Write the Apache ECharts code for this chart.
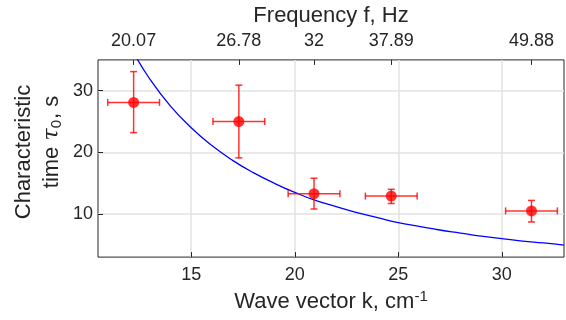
<!DOCTYPE html>
<html>
<head>
<meta charset="utf-8">
<script src="https://cdn.jsdelivr.net/npm/echarts@6/dist/echarts.min.js"></script>
<style>html,body{margin:0;padding:0;background:#fff}#c{width:566px;height:320px}</style>
</head>
<body>
<div id="c"></div>
<script>
// Measured points (wave vector k, cm^-1 ; characteristic time tau0, s)
const kVals   = [12.22, 17.30, 20.93, 24.66, 31.43];
const kErr    = [1.25, 1.25, 1.25, 1.25, 1.25];
const tauVals = [28.1, 25.0, 13.3, 12.9, 10.5];
const tauLow  = [23.2, 19.1, 10.8, 11.7, 8.7];
const tauHigh = [33.1, 30.9, 15.8, 14.0, 12.2];
// Top axis frequency labels (placed at the measured k values)
const freqLabels = ['20.07', '26.78', '32', '37.89', '49.88'];
// Fitted curve
const curveK   = [12.2, 13, 14, 15, 16, 17, 18, 19, 20, 21, 22, 23, 24, 25, 26, 27, 28, 29, 30, 31, 32, 33];
const curveTau = [36.3, 31.9, 27.5, 24.0, 21.1, 18.7, 16.7, 15.0, 13.5, 12.2, 11.2, 10.2, 9.4, 8.6, 8.0, 7.4, 6.9, 6.4, 6.0, 5.6, 5.3, 4.95];
// Tick values
const xTicks = [15, 20, 25, 30];
const yTicks = [10, 20, 30];

const FONT = 'Liberation Sans, Arial, Helvetica, sans-serif';
const TXT = '#262626';

const chart = echarts.init(document.getElementById('c'), null, {renderer: 'canvas'});

const errData = kVals.map((k, i) => [k, tauVals[i], k - kErr[i], k + kErr[i], tauLow[i], tauHigh[i]]);

function renderErr(params, api) {
  const k = api.value(0), t = api.value(1);
  const p = api.coord([k, t]);
  const lo = api.coord([k, api.value(4)]);
  const hi = api.coord([k, api.value(5)]);
  const l = api.coord([api.value(2), t]);
  const r = api.coord([api.value(3), t]);
  const c = 3.5;
  const st = {stroke: 'rgba(255,0,0,0.8)', lineWidth: 1.5};
  const ln = (x1, y1, x2, y2) => ({type: 'line', shape: {x1, y1, x2, y2}, style: st});
  return {
    type: 'group',
    children: [
      ln(p[0], lo[1], p[0], hi[1]),
      ln(p[0] - c, lo[1], p[0] + c, lo[1]),
      ln(p[0] - c, hi[1], p[0] + c, hi[1]),
      ln(l[0], p[1], r[0], p[1]),
      ln(l[0], p[1] - c, l[0], p[1] + c),
      ln(r[0], p[1] - c, r[0], p[1] + c)
    ]
  };
}

const option = {
  backgroundColor: '#fff',
  animation: false,
  grid: {left: 98, right: 2, top: 52, bottom: 58, show: true, borderColor: TXT, borderWidth: 1, backgroundColor: 'transparent'},
  xAxis: [
    {
      type: 'value', position: 'bottom', min: 10.5, max: 33,
      axisLine: {show: false},
      axisTick: {show: true, inside: true, length: 5, customValues: xTicks, lineStyle: {color: TXT}},
      axisLabel: {customValues: xTicks, margin: 9, fontSize: 18, fontFamily: FONT, color: TXT},
      splitLine: {show: true, lineStyle: {color: '#e2e2e2', width: 1.5}},
      name: 'Wave vector k, cm{sup|-1}',
      nameLocation: 'middle', nameGap: 25,
      nameTextStyle: {fontSize: 22, lineHeight: 26, fontFamily: FONT, color: TXT,
        rich: {sup: {fontSize: 15, lineHeight: 14, fontFamily: FONT, color: TXT, verticalAlign: 'top'}}}
    },
    {
      type: 'value', position: 'top', min: 10.5, max: 33,
      axisLine: {show: false},
      axisTick: {show: true, inside: true, length: 5, customValues: kVals, lineStyle: {color: TXT}},
      axisLabel: {
        customValues: kVals, margin: 10, fontSize: 18, fontFamily: FONT, color: TXT,
        formatter: function (v) {
          let best = 0;
          for (let i = 1; i < kVals.length; i++) if (Math.abs(kVals[i] - v) < Math.abs(kVals[best] - v)) best = i;
          return freqLabels[best];
        }
      },
      splitLine: {show: false},
      name: 'Frequency f, Hz',
      nameLocation: 'middle', nameGap: 23,
      nameTextStyle: {fontSize: 22, fontFamily: FONT, color: TXT}
    }
  ],
  yAxis: {
    type: 'value', min: 3, max: 35,
    axisLine: {show: false},
    axisTick: {show: true, inside: true, length: 5, customValues: yTicks, lineStyle: {color: TXT}},
    axisLabel: {customValues: yTicks, margin: 5, fontSize: 18, fontFamily: FONT, color: TXT},
    splitLine: {show: true, lineStyle: {color: '#e2e2e2', width: 1.5}}
  },
  graphic: [
    {
      type: 'text', x: 24, y: 152, rotation: Math.PI / 2,
      style: {text: 'Characteristic', font: '22px ' + FONT, fill: TXT, align: 'center', verticalAlign: 'middle'}
    },
    {
      type: 'text', x: 52, y: 142, rotation: Math.PI / 2,
      style: {
        text: 'time {t|τ}{s|0}, s', font: '22px ' + FONT, fill: TXT, align: 'center', verticalAlign: 'middle',
        rich: {
          t: {fontSize: 22, fontFamily: 'DejaVu Serif, serif', fontStyle: 'italic', fill: TXT},
          s: {fontSize: 15, fontFamily: FONT, fill: TXT, verticalAlign: 'bottom', padding: [9, 1, 0, 0]}
        }
      }
    }
  ],
  series: [
    {
      type: 'line', xAxisIndex: 0, yAxisIndex: 0,
      data: curveK.map((k, i) => [k, curveTau[i]]),
      smooth: true, showSymbol: false, symbol: 'none', clip: true,
      lineStyle: {color: '#0000ff', width: 1.3}, z: 2
    },
    {
      type: 'custom', xAxisIndex: 0, yAxisIndex: 0,
      data: errData, renderItem: renderErr, z: 3, clip: false
    },
    {
      type: 'scatter', xAxisIndex: 0, yAxisIndex: 0,
      data: kVals.map((k, i) => [k, tauVals[i]]),
      symbol: 'circle', symbolSize: 11,
      itemStyle: {color: '#ff0000'}, z: 4
    }
  ]
};
chart.setOption(option);
</script>
</body>
</html>
